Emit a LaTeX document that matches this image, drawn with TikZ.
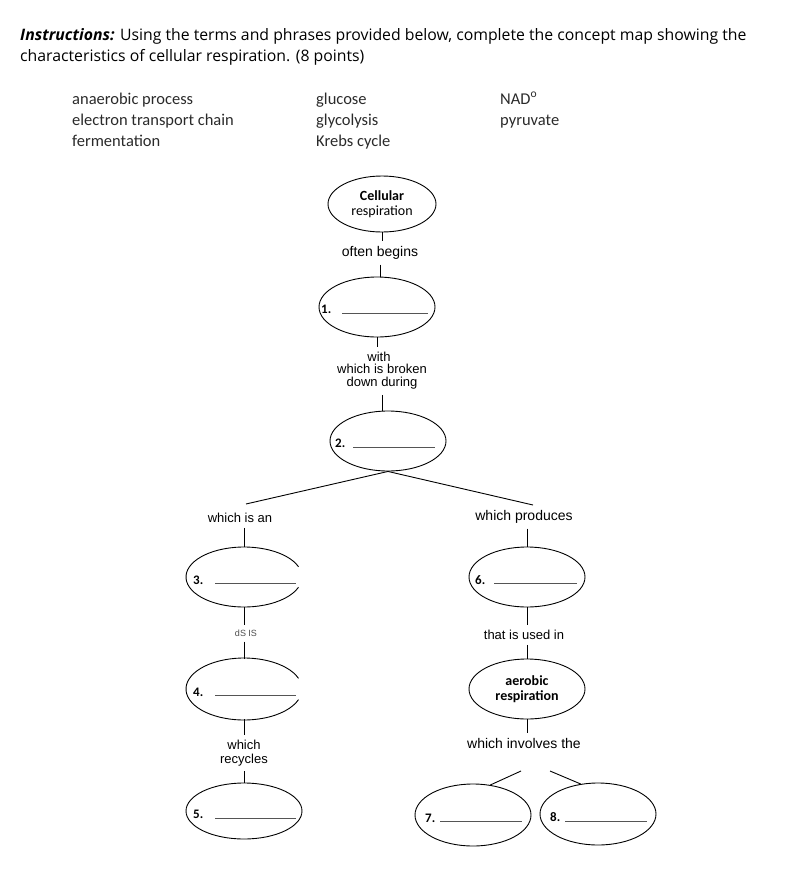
\documentclass[tikz,border=0pt]{standalone}
\usepackage{fontspec}
\setmainfont{Open Sans}
\newfontfamily\termf{Carlito}
\newfontfamily\arialf{Liberation Sans}
\usetikzlibrary{shapes.geometric,calc}
\definecolor{termgray}{HTML}{2A2A2A}
\definecolor{ulgray}{HTML}{555555}
\tikzset{
  bubble/.style={ellipse,draw,line width=0.9pt,minimum width=116pt,minimum height=60pt,inner sep=0pt},
  ghost/.style={ellipse,minimum width=116pt,minimum height=60pt,inner sep=0pt},
  lab/.style={font=\arialf\fontsize{14}{14}\selectfont,inner xsep=1pt,inner ysep=5pt,align=center},
  num/.style={font=\termf\bfseries\fontsize{13}{13}\selectfont,inner sep=0pt,anchor=west},
  term/.style={font=\termf\fontsize{16.5}{16.5}\selectfont,text=termgray,anchor=base west,inner sep=0pt},
  conn/.style={line width=0.9pt},
  blank/.style={line width=0.9pt,draw=ulgray}
}
\begin{document}
\begin{tikzpicture}[x=1pt,y=-1pt]
\useasboundingbox (0,0) rectangle (811,873);
% instructions
\node[anchor=base west,inner sep=0pt,font=\fontsize{15.8}{15.8}\selectfont] (ins1) at (20,40) {\textbf{\textit{Instructions:}} Using the terms and phrases provided below, complete the concept map showing the};
\node[anchor=base west,inner sep=0pt,font=\fontsize{15.8}{15.8}\selectfont] (ins2) at (20,61) {characteristics of cellular respiration. (8 points)};
% terms
\node[term] (t1) at (72,104) {anaerobic process};
\node[term] (t2) at (72,125) {electron transport chain};
\node[term] (t3) at (72,146) {fermentation};
\node[term] (t4) at (316,104) {glucose};
\node[term] (t5) at (316,125) {glycolysis};
\node[term] (t6) at (316,146) {Krebs cycle};
\node[term] (t7) at (500,104) {NAD\textsuperscript{o}};
\node[term] (t8) at (500,125) {pyruvate};
% top ellipse
\node[bubble,minimum width=108pt,minimum height=56pt,align=center,font=\termf\fontsize{14}{15}\selectfont] (cr) at (382,204) {\textbf{Cellular}\\respiration};
\node[lab] (ob) at (380,253) {often begins};
\node[bubble] (e1) at (377,307) {};
\node[num] (n1) at (321,309) {1.};
\draw[blank] (342,313) -- (428,313);
\node[lab,font=\arialf\fontsize{13}{13}\selectfont] (with) at (379,357) {with};
\node[lab,font=\arialf\fontsize{13}{13}\selectfont] (wib) at (382,377) {which is broken\\down during};
\node[bubble] (e2) at (388,441) {};
\node[num] (n2) at (335,443) {2.};
\draw[blank] (353,447) -- (435,447);
% left branch
\node[lab,font=\arialf\fontsize{13}{13}\selectfont] (wia) at (240,518) {which is an};
\node[ghost] (e3) at (244,577) {};
\draw[conn] ($(e3.center)+(20:58pt and 30pt)$) arc[start angle=20,end angle=340,x radius=58pt,y radius=30pt];
\node[num] (n3) at (193,580) {3.};
\draw[blank] (215,583) -- (296,583);
\node[lab,font=\arialf\fontsize{9}{9}\selectfont,text=black!70] (asis) at (246,633) {dS IS};
\node[ghost] (e4) at (244,689) {};
\draw[conn] ($(e4.center)+(20:58pt and 31pt)$) arc[start angle=20,end angle=340,x radius=58pt,y radius=31pt];
\node[num] (n4) at (193,692) {4.};
\draw[blank] (215,695) -- (296,695);
\node[lab,font=\arialf\fontsize{13}{14}\selectfont] (wr) at (244,753) {which\\recycles};
\node[bubble,minimum height=56pt] (e5) at (244,811) {};
\node[num] (n5) at (193,814) {5.};
\draw[blank] (215,818) -- (296,818);
% right branch
\node[lab] (wp) at (524,517) {which produces};
\node[bubble] (e6) at (527,577) {};
\node[num] (n6) at (475,580) {6.};
\draw[blank] (494,583) -- (577,583);
\node[lab,font=\arialf\fontsize{13}{13}\selectfont] (tiu) at (524,635) {that is used in};
\node[bubble,align=center,font=\termf\bfseries\fontsize{14}{15}\selectfont] (ar) at (527,689) {aerobic\\respiration};
\node[lab] (wit) at (524,743) {which involves the};
\node[bubble,minimum height=62pt] (e7) at (473,815) {};
\node[num] (n7) at (425,818) {7.};
\draw[blank] (440,821) -- (522,821);
\node[bubble,minimum height=62pt] (e8) at (598,814) {};
\node[num] (n8) at (550,817) {8.};
\draw[blank] (565,821) -- (647,821);
% connectors
\draw[conn] (cr.south) -- (cr.south |- ob.north);
\draw[conn] (ob.south) -- (ob.south |- e1.north);
\draw[conn] (e1.south) -- (e1.south |- with.north);
\draw[conn] (wib.south) -- (wib.south |- e2.north);
\coordinate (lt) at (246,504);
\coordinate (rt) at (533,505);
\draw[conn] (lt) -- (e2.south) -- (rt);
\draw[conn] (e3.north |- wia.south) -- (e3.north);
\draw[conn] (e3.south) -- (e3.south |- asis.north);
\draw[conn] (asis.south -| e4.north) -- (e4.north);
\draw[conn] (e4.south) -- (e4.south |- wr.north);
\draw[conn] (wr.south -| e5.north) -- (e5.north);
\draw[conn] (e6.north |- wp.south) -- (e6.north);
\draw[conn] (e6.south) -- (e6.south |- tiu.north);
\draw[conn] (tiu.south -| ar.north) -- (ar.north);
\draw[conn] (ar.south) -- (ar.south |- wit.north);
\coordinate (d7) at (521,771);
\coordinate (d8) at (550,771);
\draw[conn] (d7) -- (e7.60);
\draw[conn] (d8) -- (e8.120);
\end{tikzpicture}
\end{document}
